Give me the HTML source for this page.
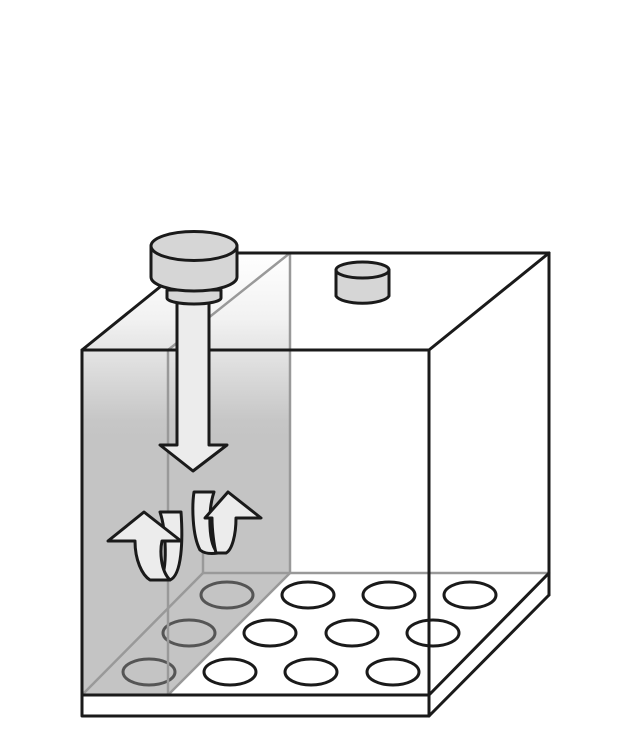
<!DOCTYPE html>
<html><head><style>html,body{margin:0;padding:0;background:#fff}</style></head>
<body>
<svg width="640" height="750" viewBox="0 0 640 750" xmlns="http://www.w3.org/2000/svg">
<defs>
<linearGradient id="g" x1="0" y1="253" x2="0" y2="440" gradientUnits="userSpaceOnUse">
<stop offset="0" stop-color="#ffffff"/><stop offset="0.35" stop-color="#f2f2f2"/><stop offset="0.9" stop-color="#c6c6c6"/><stop offset="1" stop-color="#c4c4c4"/>
</linearGradient>
</defs>
<g stroke-linejoin="round" stroke-linecap="round">
<!-- gray slab -->
<polygon points="82,350 202,253 290,253 290,573 168,695 82,695" fill="url(#g)"/>
<!-- floor holes gray (under slab) -->
<g fill="none" stroke="#555" stroke-width="3">
<ellipse cx="227" cy="595" rx="26" ry="13"/>
<ellipse cx="189" cy="633" rx="26" ry="13"/>
<ellipse cx="149" cy="672" rx="26" ry="13"/>
</g>
<g fill="none" stroke="#1a1a1a" stroke-width="3">
<ellipse cx="308" cy="595" rx="26" ry="13"/>
<ellipse cx="389" cy="595" rx="26" ry="13"/>
<ellipse cx="470" cy="595" rx="26" ry="13"/>
<ellipse cx="270" cy="633" rx="26" ry="13"/>
<ellipse cx="352" cy="633" rx="26" ry="13"/>
<ellipse cx="433" cy="633" rx="26" ry="13"/>
<ellipse cx="230" cy="672" rx="26" ry="13"/>
<ellipse cx="311" cy="672" rx="26" ry="13"/>
<ellipse cx="393" cy="672" rx="26" ry="13"/>
</g>
<!-- gray interior lines -->
<g stroke="#999" stroke-width="2.5" fill="none">
<line x1="203" y1="573" x2="549" y2="573"/>
<line x1="203" y1="545" x2="203" y2="573"/>
<line x1="82" y1="695" x2="203" y2="573"/>
<line x1="168" y1="695" x2="290" y2="573"/>
<line x1="290" y1="253" x2="290" y2="573"/>
<line x1="168" y1="350" x2="290" y2="253"/>
<line x1="168" y1="350" x2="168" y2="695"/>
</g>
<!-- box black lines -->
<g stroke="#1a1a1a" stroke-width="3" fill="none">
<rect x="82" y="350" width="347" height="345"/>
<rect x="82" y="695" width="347" height="21" fill="#fff"/>
<line x1="82" y1="350" x2="202" y2="253"/>
<line x1="202" y1="253" x2="549" y2="253"/>
<line x1="429" y1="350" x2="549" y2="253"/>
<line x1="549" y1="253" x2="549" y2="595"/>
<line x1="429" y1="695" x2="549" y2="573"/>
<line x1="429" y1="716" x2="549" y2="595"/>
</g>
<!-- small cylinder -->
<g stroke="#1a1a1a" stroke-width="3" fill="#d6d6d6">
<path d="M336,270 L336,296 A27,9 0 0 0 389,296 L389,270 Z"/>
<ellipse cx="362.5" cy="270" rx="26.5" ry="8"/>
</g>
<!-- shaft + arrow -->
<g stroke="#1a1a1a" stroke-width="3" fill="#ececec">
<polygon points="177,300 209,300 209,445 227,445 193,471 160,445 177,445"/>
<path d="M167,290 L167,298 A27,6 0 0 0 221,298 L221,290 Z" fill="#d6d6d6"/>
<path d="M151,246 L151,277 A43,14 0 0 0 237,277 L237,246 Z" fill="#d6d6d6"/>
<ellipse cx="194" cy="246" rx="43" ry="14.5" fill="#d6d6d6"/>
</g>
<!-- rotating arrow 1 -->
<g stroke="#1a1a1a" stroke-width="3" fill="#ececec">
<path d="M160,512 L181,512 C183,540 182,575 170,580 L160,580 C168,570 166,530 160,512 Z"/>
<path d="M108,541 L144,512 L181,541 L162,541 C160,550 160,570 170,580 L150,580 C142,575 135,560 135,541 Z"/>
</g>
<!-- rotating arrow 2 -->
<g stroke="#1a1a1a" stroke-width="3" fill="#ececec">
<path d="M194,492 L214,492 C208,510 208,545 218,553 C212,554 205,554 200,550 C192,535 192,505 194,492 Z"/>
<path d="M205,518 L228,492 L261,518 L236,518 C236,535 232,550 226,553 L216,553 C214,545 212,530 212,518 Z"/>
</g>
</g>
</svg>
</body></html>
